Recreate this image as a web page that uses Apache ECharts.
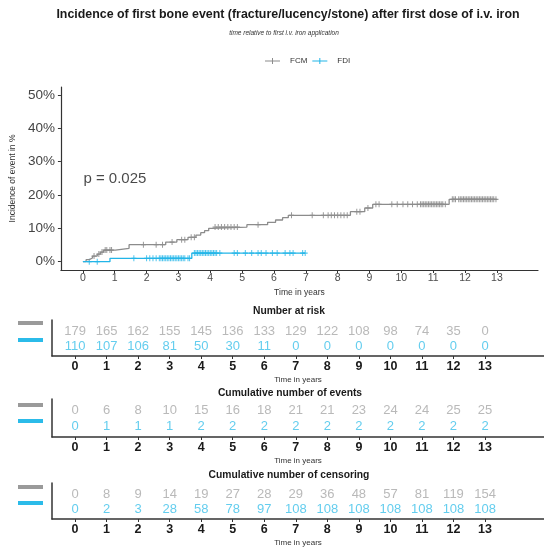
<!DOCTYPE html>
<html>
<head>
<meta charset="utf-8">
<script src="https://cdn.jsdelivr.net/npm/echarts@6.0.0/dist/echarts.min.js"></script>
<style>
  html, body { margin: 0; padding: 0; background: #fff; }
  #chart { width: 544px; height: 550px; }
</style>
</head>
<body>
<div id="chart"></div>
<script>
// time points of the tables / axis ticks
const years = [0, 1, 2, 3, 4, 5, 6, 7, 8, 9, 10, 11, 12, 13];
const pctTicks = [0, 10, 20, 30, 40, 50];

// cumulative incidence steps (%)
const fcmTimes = [0, 0.1, 0.2, 0.3, 0.45, 0.55, 0.65, 1.02, 1.45, 2.6, 2.95, 3.3, 3.55, 3.7, 3.82, 3.95, 4.05, 5.15, 5.8, 6.05, 6.27, 6.45, 8.4, 8.85, 9.1, 11.5, 13.0];
const fcmIncidence = [0, 0.6, 1.1, 1.7, 2.3, 2.9, 3.5, 4.0, 5.1, 5.9, 6.6, 7.3, 8.0, 8.7, 9.3, 10.0, 10.4, 11.1, 11.8, 12.5, 13.2, 13.9, 15.0, 16.1, 17.2, 18.7, 18.7];
const fdiTimes = [0, 0.85, 3.42, 6.98];
const fdiIncidence = [0, 1.0, 2.6, 2.6];

// censoring marks (times)
const fcmCensor = [0.35, 0.5, 0.6, 0.7, 0.75, 0.85, 0.9, 1.9, 2.3, 2.5, 2.8, 3.1, 3.2, 3.4, 3.5,
  4.15, 4.25, 4.35, 4.45, 4.55, 4.65, 4.75, 4.85, 5.5, 6.55, 7.2, 7.55, 7.7, 7.8, 7.9, 8.0, 8.1, 8.2, 8.3,
  8.6, 8.7, 8.95, 9.2, 9.3, 9.7, 9.87, 10.05, 10.2, 10.35, 10.5, 10.6, 10.65, 10.7, 10.75, 10.8, 10.85,
  10.9, 10.95, 11.0, 11.05, 11.1, 11.15, 11.2, 11.25, 11.3, 11.38, 11.6, 11.65, 11.7, 11.8, 11.85, 11.9,
  11.95, 12.0, 12.05, 12.1, 12.15, 12.2, 12.25, 12.3, 12.35, 12.4, 12.45, 12.5, 12.55, 12.6, 12.65,
  12.7, 12.75, 12.8, 12.85, 12.9, 12.97];
const fdiCensor = [0.2, 0.45, 1.6, 2.0, 2.1, 2.2, 2.3, 2.4, 2.45, 2.5, 2.55, 2.6, 2.65, 2.7, 2.75, 2.8,
  2.85, 2.9, 2.95, 3.0, 3.05, 3.1, 3.15, 3.2, 3.3, 3.35, 3.5, 3.55, 3.6, 3.65, 3.7, 3.75, 3.8, 3.85,
  3.9, 3.95, 4.0, 4.05, 4.1, 4.15, 4.2, 4.3, 4.75, 4.85, 5.1, 5.3, 5.5, 5.6, 5.75, 5.95, 6.1, 6.35,
  6.5, 6.6, 6.9, 6.98];

// risk tables
const riskFCM = [179, 165, 162, 155, 145, 136, 133, 129, 122, 108, 98, 74, 35, 0];
const riskFDI = [110, 107, 106, 81, 50, 30, 11, 0, 0, 0, 0, 0, 0, 0];
const eventsFCM = [0, 6, 8, 10, 15, 16, 18, 21, 21, 23, 24, 24, 25, 25];
const eventsFDI = [0, 1, 1, 1, 2, 2, 2, 2, 2, 2, 2, 2, 2, 2];
const censFCM = [0, 8, 9, 14, 19, 27, 28, 29, 36, 48, 57, 81, 119, 154];
const censFDI = [0, 2, 3, 28, 58, 78, 97, 108, 108, 108, 108, 108, 108, 108];

const GREY = '#8c8c8c';
const CYAN = '#22b5e8';
const GREY_TXT = '#a8a8a8';
const CYAN_TXT = '#3cc0ea';
const FONT = '"Liberation Sans", Arial, sans-serif';
const PLUS = 'path://M4,0h2v4h4v2h-4v4h-2v-4h-4v-2h4z';

function stepValue(times, vals, t) {
  let v = vals[0];
  for (let i = 0; i < times.length; i++) if (times[i] <= t) v = vals[i];
  return v;
}

const chart = echarts.init(document.getElementById('chart'));

const tableX = (gi) => ({
  type: 'value', gridIndex: gi, min: -0.73, max: 14.87,
  axisLine: { onZero: false, lineStyle: { color: '#333', width: 1.5 } },
  axisTick: { customValues: years, length: 3, lineStyle: { color: '#333' } },
  axisLabel: { customValues: years, fontSize: 12.5, fontWeight: 'bold', color: '#1a1a1a', margin: 4 },
  splitLine: { show: false },
  name: 'Time in years', nameLocation: 'middle', nameGap: 20,
  nameTextStyle: { fontSize: 8, color: '#333' }
});
const tableY = (gi) => ({
  type: 'value', gridIndex: gi, min: -0.65, max: 1.74,
  axisLine: { show: true, onZero: false, lineStyle: { color: '#333', width: 1.5 } },
  axisTick: { show: false }, axisLabel: { show: false }, splitLine: { show: false }
});
const tableRow = (gi, row, vals, color) => ({
  type: 'scatter', xAxisIndex: gi, yAxisIndex: gi, symbolSize: 1,
  itemStyle: { color: 'rgba(0,0,0,0)' }, silent: true,
  label: { show: true, position: 'inside', formatter: p => p.value[2], fontSize: 13, color: color },
  data: years.map((y, i) => [y, row, vals[i]])
});

const titleAt = (text, x, y, size, extra) => Object.assign({
  text: text, left: x, top: y, padding: 0, textAlign: 'center', textVerticalAlign: 'middle',
  textStyle: Object.assign({ fontSize: size, fontWeight: 'bold', color: '#1a1a1a', fontFamily: FONT }, extra || {})
});

const legendBars = [];
[[323, 340], [405, 421], [487, 503]].forEach(pair => {
  legendBars.push({ type: 'rect', shape: { x: 18, y: pair[0] - 2, width: 25, height: 4 }, style: { fill: '#9a9a9a' } });
  legendBars.push({ type: 'rect', shape: { x: 18, y: pair[1] - 2, width: 25, height: 4 }, style: { fill: '#2bbbe9' } });
});

const option = {
  animation: false,
  textStyle: { fontFamily: FONT },
  title: [
    titleAt('Incidence of first bone event (fracture/lucency/stone) after first dose of i.v. iron', 288, 15, 12.4),
    titleAt('time relative to first i.v. iron application', 284, 33, 6.5, { fontWeight: 'normal', fontStyle: 'italic', color: '#333' }),
    titleAt('Number at risk', 289, 311, 10.3),
    titleAt('Cumulative number of events', 290, 393, 10.3),
    titleAt('Cumulative number of censoring', 289, 475, 10.3)
  ],
  legend: {
    left: 260, top: 52, itemWidth: 15, itemHeight: 7, itemGap: 5,
    textStyle: { fontSize: 8, color: '#333', padding: [0, 0, 0, 5] },
    data: [
      { name: 'FCM', icon: 'path://M0,4.5h15v1h-15z M7,2h1v6h-1z', itemStyle: { color: GREY } },
      { name: 'FDI', icon: 'path://M0,4.5h15v1h-15z M7,2h1v6h-1z', itemStyle: { color: CYAN } }
    ]
  },
  graphic: legendBars,
  grid: [
    { left: 60, right: 6, top: 87, height: 183 },
    { left: 52, right: 0, top: 320, height: 36 },
    { left: 52, right: 0, top: 399, height: 38 },
    { left: 52, right: 0, top: 483, height: 36 }
  ],
  xAxis: [
    {
      type: 'value', gridIndex: 0, min: -0.69, max: 14.29,
      axisLine: { onZero: false, lineStyle: { color: '#333', width: 1.2 } },
      axisTick: { customValues: years, length: 3, lineStyle: { color: '#333' } },
      axisLabel: { customValues: years, fontSize: 10.5, color: '#4d4d4d', margin: 3 },
      splitLine: { show: false },
      name: 'Time in years', nameLocation: 'middle', nameGap: 18.5,
      nameTextStyle: { fontSize: 8.5, color: '#333' }
    },
    tableX(1), tableX(2), tableX(3)
  ],
  yAxis: [
    {
      type: 'value', gridIndex: 0, min: -2.49, max: 52.4,
      axisLine: { show: true, onZero: false, lineStyle: { color: '#333', width: 1.2 } },
      axisTick: { show: true, customValues: pctTicks, length: 3, lineStyle: { color: '#333' } },
      axisLabel: { customValues: pctTicks, formatter: v => v + '%', fontSize: 13.5, color: '#444', margin: 6 },
      splitLine: { show: false },
      name: 'Incidence of event in %', nameLocation: 'middle', nameGap: 37, nameRotate: 90,
      nameTextStyle: { fontSize: 8.5, color: '#333' }
    },
    tableY(1), tableY(2), tableY(3)
  ],
  series: [
    {
      name: 'FCM', type: 'line', step: 'end', showSymbol: false, xAxisIndex: 0, yAxisIndex: 0,
      lineStyle: { color: GREY, width: 1.3 }, itemStyle: { color: GREY },
      data: fcmTimes.map((t, i) => [t, fcmIncidence[i]])
    },
    {
      name: 'FDI', type: 'line', step: 'end', showSymbol: false, xAxisIndex: 0, yAxisIndex: 0,
      lineStyle: { color: CYAN, width: 1.3 }, itemStyle: { color: CYAN },
      data: fdiTimes.map((t, i) => [t, fdiIncidence[i]])
    },
    {
      name: 'FCM', type: 'scatter', xAxisIndex: 0, yAxisIndex: 0, symbol: PLUS, symbolSize: [5, 6],
      itemStyle: { color: '#808080' },
      data: fcmCensor.map(t => [t, stepValue(fcmTimes, fcmIncidence, t)])
    },
    {
      name: 'FDI', type: 'scatter', xAxisIndex: 0, yAxisIndex: 0, symbol: PLUS, symbolSize: [5, 6],
      itemStyle: { color: CYAN },
      data: fdiCensor.map(t => [t, stepValue(fdiTimes, fdiIncidence, t)])
    },
    {
      name: 'pval', type: 'scatter', xAxisIndex: 0, yAxisIndex: 0, symbolSize: 1,
      itemStyle: { color: 'rgba(0,0,0,0)' }, silent: true,
      label: { show: true, position: 'right', distance: 0, formatter: 'p = 0.025', fontSize: 15, color: '#1a1a1a' },
      data: [[0, 24.8]]
    },
    tableRow(1, 1, riskFCM, GREY_TXT), tableRow(1, 0, riskFDI, CYAN_TXT),
    tableRow(2, 1, eventsFCM, GREY_TXT), tableRow(2, 0, eventsFDI, CYAN_TXT),
    tableRow(3, 1, censFCM, GREY_TXT), tableRow(3, 0, censFDI, CYAN_TXT)
  ]
};

chart.setOption(option);
</script>
</body>
</html>
